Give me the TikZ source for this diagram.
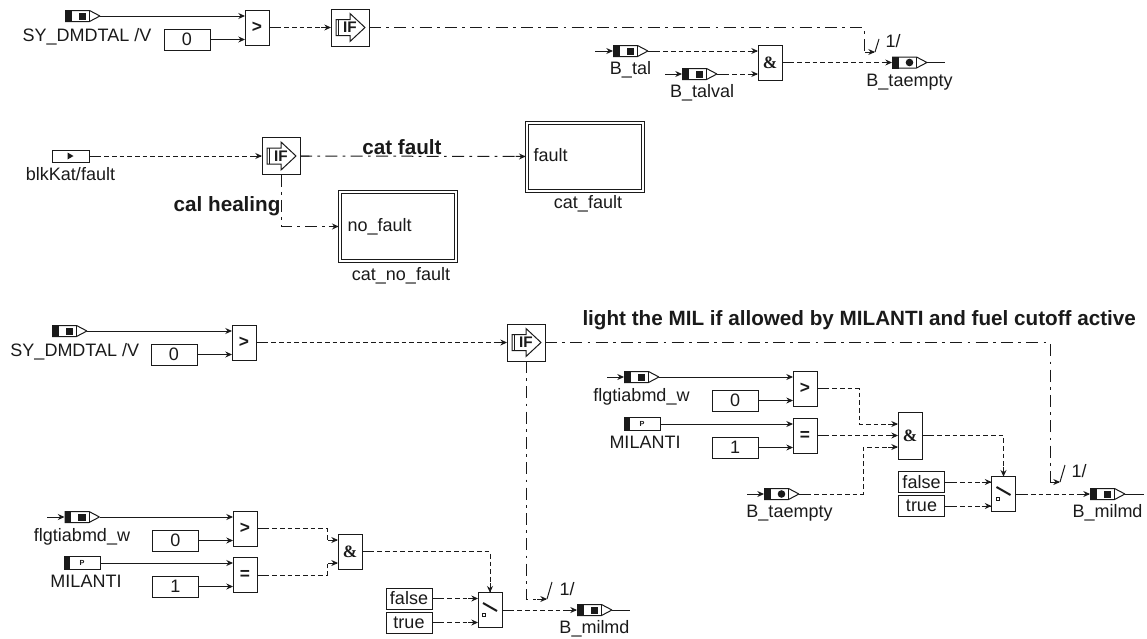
\documentclass[tikz,border=0pt]{standalone}
\usepackage{fontspec}
\setmainfont{Liberation Sans}
\newfontfamily\ampfont{Liberation Serif}
\usetikzlibrary{arrows.meta, decorations.markings}
\definecolor{wireBlack}{HTML}{1A1A1A}
\newcommand{\msgframe}{%
  \draw[fill=white] (-17,-5.5) -- (7,-5.5) -- (17.5,0) -- (7,5.5) -- (-17,5.5) -- cycle;
  \fill (-17.5,-6) rectangle (-11,6);
  \draw (7,-5.5) -- (7,5.5);}

\begin{document}
\begin{tikzpicture}[x=0.75pt, y=-0.75pt, line width=0.75pt, color=wireBlack,
        lbl/.style={font=\fontsize{13.5}{15}\selectfont, inner sep=0pt, text height=10pt, text depth=2.5pt},
        note/.style={font=\fontsize{15.5}{17}\selectfont\bfseries, inner sep=0pt},
        block/.style={draw, fill=white, minimum width=18pt, minimum height=26.25pt, inner sep=0pt, outer sep=0pt, font=\fontsize{13}{14}\selectfont\bfseries},
        andblock/.style={block, minimum height=#1, font=\fontsize{13}{14}\selectfont\bfseries\ampfont},
        constbox/.style={draw, fill=white, minimum width=34.5pt, minimum height=15.75pt, inner sep=0pt, outer sep=0pt, font=\fontsize{13.5}{15}\selectfont},
        ifblock/.style={draw, fill=white, minimum width=28.5pt, minimum height=27.75pt, inner sep=0pt, outer sep=0pt,
            label={[font=\fontsize{11.5}{12}\selectfont\bfseries, inner sep=0pt]center:IF},
            path picture={\draw (-14,-8) -- (0,-8) -- (0,-14) -- (15,0) -- (0,14) -- (0,8) -- (-14,8) -- cycle;
                \draw (-12,-8) -- (-12,8);}},
        msgsq/.style={minimum width=26.25pt, minimum height=9pt, inner sep=0pt, outer sep=0pt,
            path picture={\msgframe \fill (-4,-3.5) rectangle (3.5,3.5);}},
        msgdot/.style={minimum width=26.25pt, minimum height=9pt, inner sep=0pt, outer sep=0pt,
            path picture={\msgframe \fill (0,0) circle (3.8);}},
        parmbox/.style={draw, fill=white, minimum width=27pt, minimum height=9.5pt, inner sep=0pt, outer sep=0pt,
            label={[font=\fontsize{5.5}{6}\selectfont\bfseries, inner sep=0pt]center:P},
            path picture={\fill[wireBlack] (-18,-7) rectangle (-12,7);}},
        blkbox/.style={draw, fill=white, minimum width=27.75pt, minimum height=9pt, inner sep=0pt, outer sep=0pt,
            path picture={\fill[wireBlack] (-3,-3.5) -- (3,0) -- (-3,3.5) -- cycle;}},
        switchblock/.style={draw, fill=white, minimum width=18pt, minimum height=26pt, inner sep=0pt, outer sep=0pt,
            path picture={\draw[line width=1.5pt] (-7,-7) -- (7,1);
                \draw (-7.5,3.5) rectangle (-4.5,6.5);}},
        subsys/.style={draw, double, double distance=1.5pt, fill=white, inner sep=0pt, outer sep=1pt},
        wire/.style={-{Stealth[length=5pt,width=4.5pt]}},
        stubs/.style={postaction={draw, -, solid, dash pattern=on 7pt off 4000pt},
            postaction={decorate, decoration={markings, mark=at position -0.5pt with {\draw[-, solid] (-7pt,0) -- (0,0);}}}},
        dashwire/.style={wire, stubs, dash pattern=on 3.5pt off 2.25pt},
        ctrlwire/.style={wire, stubs, dash pattern=on 9pt off 4pt on 2pt off 4pt}]

        \useasboundingbox (0,0) rectangle (1147,639);

        % Row 1: comparator and first IF
        \node[msgsq] (sya) at (82.5,16) {};
        \node[lbl, below of=sya, node distance=15pt, xshift=3.4pt] (syalbl) {SY\_DMDTAL /V};
        \node[constbox] (zeroa) at (187,39.5) {0};
        \node[block] (cmpa) at (257,27.5) {>};
        \node[ifblock] (ifa) at (350,27.5) {};
        \coordinate (benda) at (864,27.5);
        \coordinate (tala) at (875,52);
        \node[lbl, anchor=west] (onea) at (885,42) {1/};
        \coordinate (startb) at (595,51);
        \node[msgsq] (btal) at (630.5,51) {};
        \node[lbl, below of=btal, node distance=13.5pt] (btallbl) {B\_tal};
        \coordinate (startc) at (665,74);
        \node[msgsq] (btalval) at (699.5,74) {};
        \node[lbl, below of=btalval, node distance=13.5pt, xshift=2pt] (btalvallbl) {B\_talval};
        \node[andblock=26.25pt] (anda) at (770,62.5) {\&};
        \node[msgdot] (btaempty) at (909.5,62.5) {};
        \node[lbl, below of=btaempty, node distance=14pt] (btaemptylbl) {B\_taempty};
        \coordinate (enda) at (945,62.5);

        % Row 2: fault branch
        \node[blkbox] (kat) at (70.5,156) {};
        \node[lbl, below of=kat, node distance=14.25pt] (katlbl) {blkKat/fault};
        \node[ifblock] (ifb) at (281,156) {};
        \node[subsys, minimum width=87pt, minimum height=51pt] (catf) at (585,156.5) {};
        \node[lbl, anchor=west] (faulttxt) at (533,156) {fault};
        \node[lbl, below of=catf, node distance=35.5pt, xshift=2.25pt] (catflbl) {cat\_fault};
        \node[subsys, minimum width=87pt, minimum height=52pt] (catn) at (398,226.5) {};
        \node[lbl, anchor=west] (nofaulttxt) at (347,226) {no\_fault};
        \node[lbl, below of=catn, node distance=36.5pt, xshift=2.25pt] (catnlbl) {cat\_no\_fault};
        \node[note, anchor=south] (catnote) at (402,155) {cat fault};
        \node[note, anchor=east] (calnote) at (281,206) {cal healing};

        % Row 3: comparator and second IF
        \node[msgsq] (syb) at (69.5,331) {};
        \node[lbl, below of=syb, node distance=15pt, xshift=4pt] (syblbl) {SY\_DMDTAL /V};
        \node[constbox] (zerob) at (174,354.5) {0};
        \node[block] (cmpb) at (244,342.5) {>};
        \node[ifblock] (ifc) at (526,342.5) {};
        \node[note, anchor=west] (milnote) at (582,320) {light the MIL if allowed by MILANTI and fuel cutoff active};
        \coordinate (bendc) at (1050,342.5);
        \coordinate (talb) at (1060,482);
        \node[lbl, anchor=west] (oneb) at (1071,472) {1/};

        % Right group
        \coordinate (startd) at (607,377);
        \node[msgsq] (flga) at (641.5,377) {};
        \node[lbl, below of=flga, node distance=14.25pt] (flgalbl) {flgtiabmd\_w};
        \node[constbox] (zeroc) at (735,400.5) {0};
        \node[block] (cmpc) at (805,388.5) {>};
        \node[parmbox] (mila) at (642,424) {};
        \node[lbl, below of=mila, node distance=14.25pt, xshift=2.25pt] (milalbl) {MILANTI};
        \node[constbox] (onec) at (735,447.5) {1};
        \node[block] (eqa) at (805,435.5) {=};
        \coordinate (starte) at (747,494);
        \node[msgdot] (btaemptyb) at (781.5,494) {};
        \node[lbl, below of=btaemptyb, node distance=13.5pt, xshift=6pt] (btaemptyblbl) {B\_taempty};
        \coordinate (bendd) at (859,424);
        \coordinate (bende) at (863,447);
        \node[andblock=35.25pt] (andb) at (910,435.5) {\&};
        \node[constbox] (falsea) at (921.5,482) {false};
        \node[constbox] (truea) at (921.5,506) {true};
        \node[switchblock] (swb) at (1003.5,494) {};
        \node[msgsq] (bmila) at (1107.5,494) {};
        \node[lbl, below of=bmila, node distance=13.5pt] (bmilalbl) {B\_milmd};
        \coordinate (endb) at (1144,494);

        % Lower group
        \coordinate (startf) at (47,517);
        \node[msgsq] (flgb) at (82,517) {};
        \node[lbl, below of=flgb, node distance=14.25pt] (flgblbl) {flgtiabmd\_w};
        \node[constbox] (zerod) at (175.5,540.5) {0};
        \node[block] (cmpd) at (245,528.5) {>};
        \node[parmbox] (milb) at (82,563) {};
        \node[lbl, below of=milb, node distance=14.25pt, xshift=3pt] (milblbl) {MILANTI};
        \node[constbox] (oned) at (175.5,586.5) {1};
        \node[block] (eqb) at (245,575) {=};
        \coordinate (bendf) at (327,540);
        \coordinate (bendg) at (327,563);
        \node[andblock=26.25pt] (andc) at (350,551.5) {\&};
        \node[constbox] (falseb) at (409,598.5) {false};
        \node[constbox] (trueb) at (409,622.5) {true};
        \node[switchblock] (swa) at (490,610) {};
        \node[msgsq] (bmilb) at (594.5,610) {};
        \node[lbl, below of=bmilb, node distance=13.5pt] (bmilblbl) {B\_milmd};
        \coordinate (endc) at (630,610);
        \coordinate (talc) at (547,599);
        \node[lbl, anchor=west] (onec2) at (559,590) {1/};

        % Arrows row 1
        \draw[wire] (sya.east) -- (sya.east -| cmpa.west);
        \draw[wire] (zeroa.east) -- (zeroa.east -| cmpa.west);
        \draw[dashwire] (cmpa.east) -- (ifa.west);
        \draw[ctrlwire] (ifa.east) -- (benda) |- (tala);
        \draw (tala) -- +(4,-13);
        \draw[wire] (startb) -- (btal.west);
        \draw[wire] (startc) -- (btalval.west);
        \draw[dashwire] (btal.east) -- (btal.east -| anda.west);
        \draw[dashwire] (btalval.east) -- (btalval.east -| anda.west);
        \draw[dashwire] (anda.east) -- (btaempty.west);
        \draw (btaempty.east) -- (enda);

        % Arrows row 2
        \draw[dashwire] (kat.east) -- (ifb.west);
        \draw[ctrlwire] (ifb.east) -- (catf.west);
        \draw[ctrlwire] (ifb.south) |- (catn.west);

        % Arrows row 3
        \draw[wire] (syb.east) -- (syb.east -| cmpb.west);
        \draw[wire] (zerob.east) -- (zerob.east -| cmpb.west);
        \draw[dashwire] (cmpb.east) -- (ifc.west);
        \draw[ctrlwire] (ifc.east) -- (bendc) |- (talb);
        \draw (talb) -- +(5,-17);
        \draw[ctrlwire] (ifc.south) |- (talc);
        \draw (talc) -- +(5,-17);

        % Arrows right group
        \draw[wire] (startd) -- (flga.west);
        \draw[wire] (flga.east) -- (flga.east -| cmpc.west);
        \draw[wire] (zeroc.east) -- (zeroc.east -| cmpc.west);
        \draw[wire] (mila.east) -- (mila.east -| eqa.west);
        \draw[wire] (onec.east) -- (onec.east -| eqa.west);
        \draw[wire] (starte) -- (btaemptyb.west);
        \draw[dashwire] (cmpc.east) -| (bendd) -- (bendd -| andb.west);
        \draw[dashwire] (eqa.east) -- (eqa.east -| andb.west);
        \draw[dashwire] (btaemptyb.east) -| (bende) -- (bende -| andb.west);
        \draw[dashwire] (andb.east) -| (swb.north);
        \draw[dashwire] (falsea.east) -- (falsea.east -| swb.west);
        \draw[dashwire] (truea.east) -- (truea.east -| swb.west);
        \draw[dashwire] (swb.east) -- (bmila.west);
        \draw (bmila.east) -- (endb);

        % Arrows lower group
        \draw[wire] (startf) -- (flgb.west);
        \draw[wire] (flgb.east) -- (flgb.east -| cmpd.west);
        \draw[wire] (zerod.east) -- (zerod.east -| cmpd.west);
        \draw[wire] (milb.east) -- (milb.east -| eqb.west);
        \draw[wire] (oned.east) -- (oned.east -| eqb.west);
        \draw[dashwire] (cmpd.east) -| (bendf) -- (bendf -| andc.west);
        \draw[dashwire] (eqb.east) -| (bendg) -- (bendg -| andc.west);
        \draw[dashwire] (andc.east) -| (swa.north);
        \draw[dashwire] (falseb.east) -- (falseb.east -| swa.west);
        \draw[dashwire] (trueb.east) -- (trueb.east -| swa.west);
        \draw[dashwire] (swa.east) -- (bmilb.west);
        \draw (bmilb.east) -- (endc);
    \end{tikzpicture}
\end{document}
